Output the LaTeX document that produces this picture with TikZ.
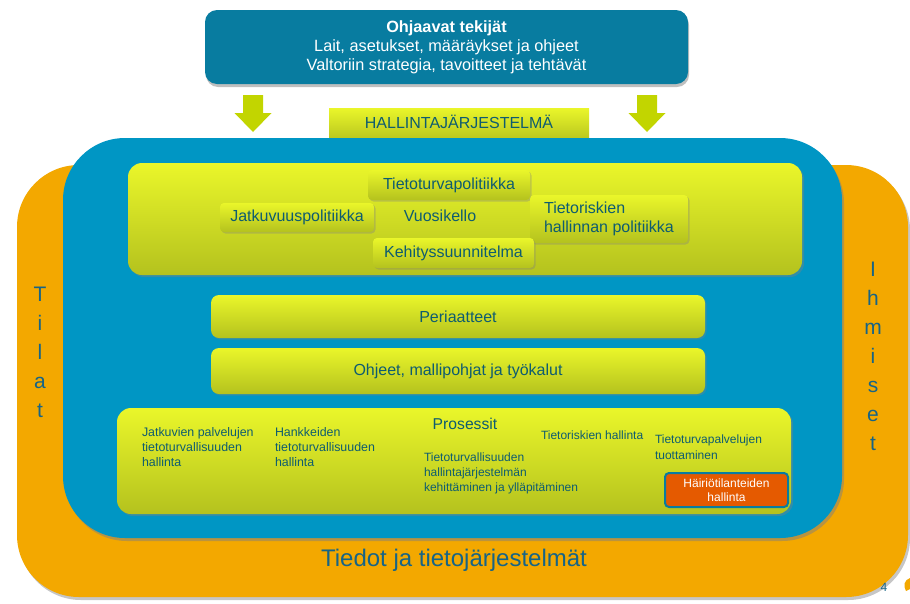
\documentclass[tikz,border=0pt]{standalone}
\usepackage{fontspec}
\setmainfont{Liberation Sans}
\usetikzlibrary{shadows}
\definecolor{orng}{RGB}{243,168,0}
\definecolor{blu}{RGB}{0,150,196}
\definecolor{topblu}{RGB}{8,124,160}
\definecolor{ytop}{RGB}{234,246,42}
\definecolor{ybot}{RGB}{180,194,30}
\definecolor{tdark}{RGB}{14,92,112}
\definecolor{grn}{RGB}{194,213,0}
\definecolor{redo}{RGB}{229,90,0}
\definecolor{sidet}{RGB}{22,100,135}
\tikzset{
  every node/.style={inner sep=0pt, outer sep=0pt},
  ybox/.style={top color=ytop, bottom color=ybot, rounded corners=4pt, drop shadow={shadow xshift=1.5pt, shadow yshift=-1.5pt, opacity=0.35}, text=tdark, font=\fontsize{16}{19}\selectfont},
  bigy/.style={top color=ytop, bottom color=ybot, rounded corners=14pt, drop shadow={shadow xshift=2pt, shadow yshift=-2pt, opacity=0.4}},
  smalltxt/.style={text=tdark, font=\fontsize{12.4}{15}\selectfont, align=left, anchor=north west},
  side/.style={text=sidet, font=\fontsize{21}{29}\selectfont, align=center},
  garrow/.style={fill=grn, draw=none},
}
\begin{document}
\begin{tikzpicture}[x=1pt,y=-1pt]
\useasboundingbox (0,0) rectangle (910,603);
% outer orange
\fill[orng, drop shadow={shadow xshift=2pt, shadow yshift=-3pt, opacity=0.45}] [rounded corners=62pt] (17,165) rectangle (908,597);
% HALLINTAJARJESTELMA tab
\node[top color=ytop, bottom color=ybot, minimum width=260pt, minimum height=34pt, anchor=north, text=tdark, font=\fontsize{16}{19}\selectfont, text depth=0pt] (hall) at (459,108) {\raisebox{6pt}{HALLINTAJÄRJESTELMÄ}};
% blue
\fill[blu, drop shadow={shadow xshift=2pt, shadow yshift=-3pt, opacity=0.5}] [rounded corners=62pt] (63,138) rectangle (842,538);
% top box
\node[fill=topblu, rounded corners=12pt, minimum width=483pt, minimum height=74pt, drop shadow={shadow xshift=1pt, shadow yshift=-3pt, opacity=0.5}, text=white, align=center, font=\fontsize{16.3}{19}\selectfont] (top) at (446.5,47) {\textbf{Ohjaavat tekijät}\\Lait, asetukset, määräykset ja ohjeet\\Valtoriin strategia, tavoitteet ja tehtävät};
% green arrows
\foreach \cx in {253,647} {
  \fill[garrow] (\cx-10,95) -- (\cx+10,95) -- (\cx+10,113) -- (\cx+18.5,113) -- (\cx,132) -- (\cx-18.5,113) -- (\cx-10,113) -- cycle;
}
% policy group
\node[bigy, minimum width=674pt, minimum height=112pt] (pol) at (465,219) {};
\node[ybox, minimum width=162pt, minimum height=30pt] (ttp) at (449,185) {Tietoturvapolitiikka};
\node[ybox, minimum width=154pt, minimum height=29pt] (jat) at (297,217.5) {Jatkuvuuspolitiikka};
\node[text=tdark, font=\fontsize{16}{19}\selectfont] (vuo) at (440,216) {Vuosikello};
\node[ybox, minimum width=158pt, minimum height=48pt, align=left] (tri) at (609,219) {Tietoriskien\\hallinnan politiikka};
\node[ybox, minimum width=161pt, minimum height=30pt] (keh) at (453.5,253) {Kehityssuunnitelma};
% Periaatteet, Ohjeet
\node[ybox, rounded corners=8pt, minimum width=494pt, minimum height=43pt] (per) at (458,316.5) {Periaatteet};
\node[ybox, rounded corners=8pt, minimum width=494pt, minimum height=46pt] (ohj) at (458,371) {Ohjeet, mallipohjat ja työkalut};
% Prosessit
\node[bigy, minimum width=674pt, minimum height=106pt] (pro) at (454,461) {};
\node[text=tdark, font=\fontsize{15.7}{18}\selectfont] (prot) at (465,424) {Prosessit};
\node[smalltxt] (p1) at (142,428) {Jatkuvien palvelujen\\tietoturvallisuuden\\hallinta};
\node[smalltxt] (p2) at (275,428) {Hankkeiden\\tietoturvallisuuden\\hallinta};
\node[smalltxt, font=\fontsize{12}{15}\selectfont] (p3) at (424,453) {Tietoturvallisuuden\\hallintajärjestelmän\\kehittäminen ja ylläpitäminen};
\node[smalltxt, font=\fontsize{12}{15}\selectfont] (p4) at (541,431) {Tietoriskien hallinta};
\node[smalltxt, font=\fontsize{12}{16}\selectfont] (p5) at (655,435) {Tietoturvapalvelujen\\ tuottaminen};
\node[fill=redo, draw=topblu, line width=2pt, rounded corners=4pt, minimum width=123pt, minimum height=34pt, text=white, align=center, font=\fontsize{12}{14.5}\selectfont] (hai) at (726.5,490) {Häiriötilanteiden\\hallinta};
% side labels
\node[side] (tilat) at (40,352) {T\\i\\l\\a\\t};
\node[side] (ihm) at (873,356) {I\\h\\m\\i\\s\\e\\t};
\node[text=sidet, font=\fontsize{24}{28}\selectfont] (tied) at (454,560) {Tiedot ja tietojärjestelmät};
\node[text=sidet, font=\fontsize{12}{14}\selectfont] (num) at (884,587) {4};
\fill[orng] (910,578) .. controls (904,580) and (903,586) .. (906,591) -- (910,589) -- cycle;
\end{tikzpicture}
\end{document}
